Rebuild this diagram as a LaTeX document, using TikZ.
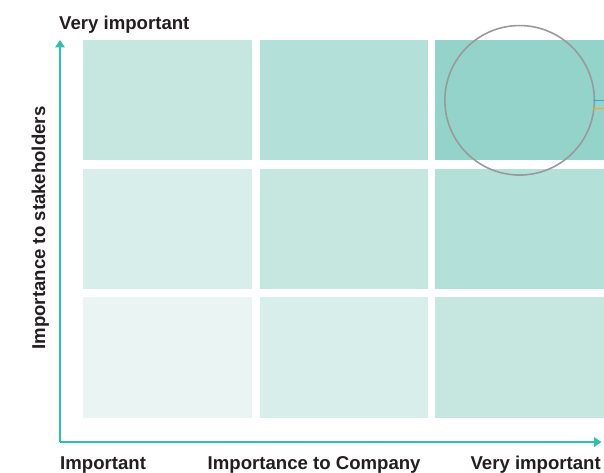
\documentclass[tikz,border=0pt]{standalone}
\usepackage{fontspec}
\setmainfont{Liberation Sans}
\usetikzlibrary{arrows.meta}
\definecolor{axisteal}{HTML}{30BFAE}
\definecolor{labelink}{HTML}{231F20}
\definecolor{shadeA}{HTML}{EAF5F3}
\definecolor{shadeB}{HTML}{D7EEEA}
\definecolor{shadeC}{HTML}{C6E6E0}
\definecolor{shadeD}{HTML}{B4E0DA}
\definecolor{shadeE}{HTML}{93D3CA}
\definecolor{ringgray}{HTML}{9A9A9A}
\definecolor{markblue}{HTML}{29ABE2}
\definecolor{markorange}{HTML}{F7A823}
\tikzset{
  axisline/.style={draw=axisteal, line width=2.2pt, -{Triangle[length=7.5pt,width=9.5pt]}},
  axislabel/.style={font=\bfseries\fontsize{18.6}{20}\selectfont, text=labelink, inner sep=0pt},
  ring/.style={draw=ringgray, line width=1.6pt},
  marker/.style={line width=1.4pt}
}
\begin{document}
\begin{tikzpicture}[x=1pt,y=-1pt]
\useasboundingbox (0,0) rectangle (604,473);

% 3x3 matrix of cells, darker towards the top right
\fill[shadeC] (83,40)  rectangle (252,160.5) coordinate (c11);
\fill[shadeD] (260,40) rectangle (428,160.5) coordinate (c12);
\fill[shadeE] (435,40) rectangle (604,160.5) coordinate (c13);
\fill[shadeB] (83,169)  rectangle (252,289) coordinate (c21);
\fill[shadeC] (260,169) rectangle (428,289) coordinate (c22);
\fill[shadeD] (435,169) rectangle (604,289) coordinate (c23);
\fill[shadeA] (83,297)  rectangle (252,417.5) coordinate (c31);
\fill[shadeB] (260,297) rectangle (428,417.5) coordinate (c32);
\fill[shadeC] (435,297) rectangle (604,417.5) coordinate (c33);

% axes
\coordinate (origin) at (60,442);
\coordinate (ytip) at (60,40);
\coordinate (xtip) at (601.5,442);
\draw[axisline] (origin) -- (ytip);
\draw[axisline] (origin) -- (xtip);

% highlight ring and its two leader marks
\node[ring, circle, minimum size=149.5pt, inner sep=0pt] (ring) at (519.6,100.3) {};
\coordinate (bluestart) at (594.5,100.5);
\coordinate (blueend) at (604,100.5);
\coordinate (orangestart) at (594.5,108.3);
\coordinate (orangeend) at (604,108.3);
\draw[marker, markblue] (bluestart) -- (blueend);
\fill[markblue] (bluestart) circle (1.3pt);
\draw[marker, markorange] (orangestart) -- (orangeend);
\fill[markorange] (orangestart) circle (1.3pt);

% labels
\node[axislabel, anchor=base west] (ytop) at (59,29.5) {Very important};
\node[axislabel, anchor=base west] (xlow) at (60,469.5) {Important};
\node[axislabel, anchor=base west] (xname) at (207.5,469.5) {Importance to Company};
\node[axislabel, anchor=base east] (xhigh) at (601,469.5) {Very important};
\node[axislabel, anchor=base, rotate=90] (yname) at (45,228) {Importance to stakeholders};
\end{tikzpicture}
\end{document}
